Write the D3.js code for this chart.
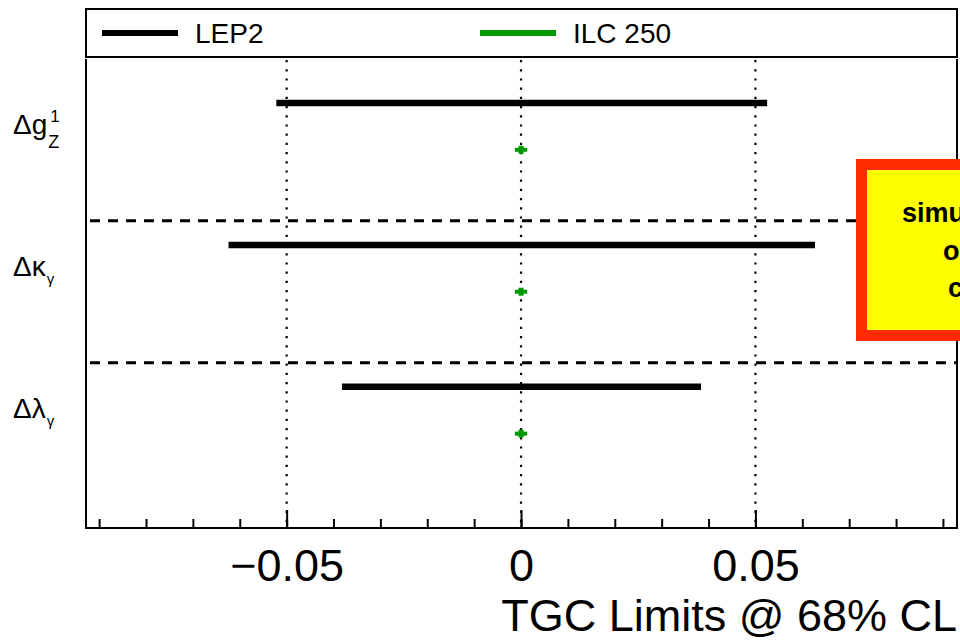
<!DOCTYPE html>
<html><head><meta charset="utf-8">
<script src="https://cdn.jsdelivr.net/npm/d3@7"></script>
<style>
html,body{margin:0;padding:0;background:#fff;}
text{font-family:"Liberation Sans",Arial,Helvetica,sans-serif;}
</style></head>
<body><svg id="c" width="960" height="640"></svg>
<script>
// ---- data ----
const labelMain = ["Δg", "Δκ", "Δλ"];
const labelSup  = ["1", "", ""];
const labelSub  = ["Z", "γ", "γ"];
const lepLow  = [-0.0522, -0.0624, -0.0382];
const lepHigh = [ 0.0525,  0.0627,  0.0384];
const ilcLow  = [-0.0011, -0.0011, -0.0011];
const ilcHigh = [ 0.0011,  0.0011,  0.0011];
const majorTicks = [-0.05, 0, 0.05];
const minorTicks = [-0.09,-0.08,-0.07,-0.06,-0.05,-0.04,-0.03,-0.02,-0.01,0,0.01,0.02,0.03,0.04,0.05,0.06,0.07,0.08,0.09];
const seriesNames = ["LEP2", "ILC 250"];
const seriesColors = ["#000000", "#009a00"];
const boxLines = ["simulation", "only", "cuts"];
const xTitle = "TGC Limits @ 68% CL";

// ---- layout ----
const L = 86, R = 957, T = 59, B = 528;
const svg = d3.select("#c");
const x = d3.scaleLinear().domain([-0.0928, 0.093]).range([L, R]);
const y = d3.scaleLinear().domain([-0.14, 3.165]).range([T, B]);
const rows = d3.range(labelMain.length);

// dotted vertical lines
svg.append("g").selectAll("line").data(majorTicks).join("line")
  .attr("x1", d => x(d)).attr("x2", d => x(d))
  .attr("y1", T + 1).attr("y2", B)
  .attr("stroke", "#000").attr("stroke-width", 2.2).attr("stroke-dasharray", "2.2,7");

// dashed separators
svg.append("g").selectAll("line").data(rows.slice(1)).join("line")
  .attr("x1", L + 4).attr("x2", R)
  .attr("y1", d => y(d)).attr("y2", d => y(d))
  .attr("stroke", "#000").attr("stroke-width", 3).attr("stroke-dasharray", "10,8");

// LEP2 bars
svg.append("g").selectAll("line").data(rows).join("line")
  .attr("x1", i => x(lepLow[i])).attr("x2", i => x(lepHigh[i]))
  .attr("y1", i => y(i + 0.17)).attr("y2", i => y(i + 0.17))
  .attr("stroke", seriesColors[0]).attr("stroke-width", 6.5);

// ILC points
const ilc = svg.append("g");
ilc.selectAll("line").data(rows).join("line")
  .attr("x1", i => x(ilcLow[i]) - 1).attr("x2", i => x(ilcHigh[i]) + 1)
  .attr("y1", i => y(i + 0.5)).attr("y2", i => y(i + 0.5))
  .attr("stroke", seriesColors[1]).attr("stroke-width", 4);
ilc.selectAll("rect").data(rows).join("rect")
  .attr("x", i => x((ilcLow[i] + ilcHigh[i]) / 2) - 2.5).attr("width", 5)
  .attr("y", i => y(i + 0.5) - 4).attr("height", 8)
  .attr("fill", seriesColors[1]);

// frame
svg.append("path")
  .attr("d", `M${L},${T}V${B}H${R}V${T}`)
  .attr("fill", "none").attr("stroke", "#000").attr("stroke-width", 2);

// axes
const gMinor = svg.append("g").attr("transform", `translate(0,${B})`)
  .call(d3.axisBottom(x).tickValues(minorTicks).tickSize(-9).tickFormat(""));
const gMajor = svg.append("g").attr("transform", `translate(0,${B})`)
  .call(d3.axisBottom(x).tickValues(majorTicks).tickSize(-18).tickPadding(21)
    .tickFormat(d => d === 0 ? "0" : d3.format(".2f")(d)));
[gMinor, gMajor].forEach(g => {
  g.select(".domain").remove();
  g.selectAll(".tick line").attr("stroke", "#000").attr("stroke-width", 2);
});
gMajor.selectAll(".tick text").attr("font-size", 45)
  .attr("font-family", "Liberation Sans, Arial, sans-serif").attr("fill", "#000");

// x title
svg.append("text").attr("x", R).attr("y", 631).attr("text-anchor", "end")
  .attr("font-size", 45).text(xTitle);

// row labels
rows.forEach(i => {
  const by = y(i) + 55;
  const t = svg.append("text").attr("x", 13).attr("y", by).attr("font-size", 28).text(labelMain[i]);
  const w = t.node().getComputedTextLength();
  const gx = 13 + w + 1;
  if (labelSup[i]) {
    svg.append("text").attr("x", gx + 2).attr("y", by - 12).attr("font-size", 17).text(labelSup[i]);
  }
  svg.append("text").attr("x", gx).attr("y", by + (i === 0 ? 14 : 8))
    .attr("font-size", i === 0 ? 18 : 15).text(labelSub[i]);
});

// legend
const lg = svg.append("g");
lg.append("rect").attr("x", L).attr("y", 9).attr("width", R - L).attr("height", 48)
  .attr("fill", "#fff").attr("stroke", "#000").attr("stroke-width", 2);
const legX = [102, 480];
seriesNames.forEach((n, k) => {
  lg.append("line").attr("x1", legX[k]).attr("x2", legX[k] + 76)
    .attr("y1", 33).attr("y2", 33)
    .attr("stroke", seriesColors[k]).attr("stroke-width", 6);
  lg.append("text").attr("x", legX[k] + 93).attr("y", 43)
    .attr("font-size", 28).text(n);
});

// annotation box
svg.append("rect").attr("x", 861.5).attr("y", 164.5).attr("width", 220).attr("height", 171)
  .attr("fill", "#ffff00").attr("stroke", "#ff2a00").attr("stroke-width", 11);
const bx = [902, 943, 948];
boxLines.forEach((s, k) => {
  svg.append("text").attr("x", bx[k]).attr("y", 222 + k * 37.5)
    .attr("font-size", 27).attr("font-weight", "bold").text(s);
});
</script>
</body></html>
